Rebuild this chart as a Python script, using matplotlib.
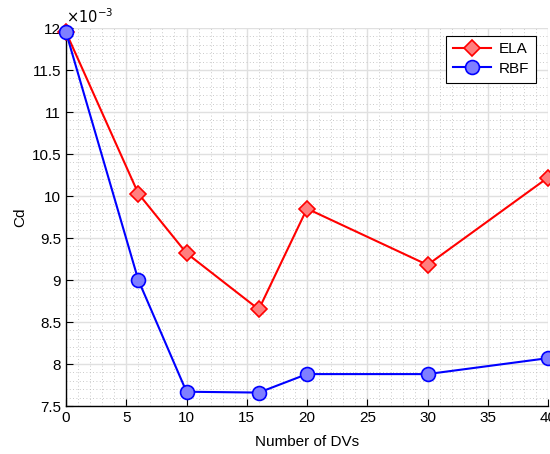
import matplotlib.pyplot as plt
import numpy as np
from matplotlib.ticker import MultipleLocator

plt.rcParams['font.family'] = ['Liberation Sans', 'DejaVu Sans']

# Cd values, stored in units of 1e-3
dvs = [0, 6, 10, 16, 20, 30, 40]
cd_ela = [11.95, 10.03, 9.32, 8.65, 9.85, 9.18, 10.22]
cd_rbf = [11.95, 9.0, 7.67, 7.66, 7.88, 7.88, 8.07]

fig = plt.figure(figsize=(5.5, 4.54), dpi=100)
ax = fig.add_axes([0.12, 0.1057, 0.8764, 0.8325])

ax.plot(dvs, cd_ela, color='#ff0000', lw=1.5, marker='D', ms=8,
        mfc='#ff7f7f', mec='#ff0000', mew=1.2, label='ELA', clip_on=False, zorder=3)
ax.plot(dvs, cd_rbf, color='#0000ff', lw=1.5, marker='o', ms=10,
        mfc='#7f7fff', mec='#0000ff', mew=1.2, label='RBF', clip_on=False, zorder=3)

ax.set_xlim(0, 40)
ax.set_ylim(7.5, 12)
ax.xaxis.set_major_locator(MultipleLocator(5))
ax.xaxis.set_minor_locator(MultipleLocator(1))
ax.yaxis.set_major_locator(MultipleLocator(0.5))
ax.yaxis.set_minor_locator(MultipleLocator(0.1))
ax.set_yticklabels([f'{v:g}' for v in ax.get_yticks()])

ax.grid(True, which='major', color='#e0e0e0', lw=1.0)
ax.grid(True, which='minor', color='#b8b8b8', lw=0.6, ls=(0, (1, 3)))
ax.set_axisbelow(True)

for s in ['top', 'right']:
    ax.spines[s].set_visible(False)
for s in ['left', 'bottom']:
    ax.spines[s].set_linewidth(1.0)
ax.tick_params(which='both', direction='in', labelsize=11, top=False, right=False)
ax.tick_params(which='major', length=5)
ax.tick_params(which='minor', length=0)

ax.set_xlabel('Number of DVs', fontsize=11, labelpad=7)
ax.set_ylabel('Cd', fontsize=11, labelpad=3)
ax.text(0.0, 1.005, r'$\times10^{-3}$', transform=ax.transAxes, fontsize=10.5,
        ha='left', va='bottom')

leg = ax.legend(loc='upper right', bbox_to_anchor=(0.975, 0.98), fontsize=11,
                fancybox=False, edgecolor='black', framealpha=1, handlelength=2.5,
                borderpad=0.45, labelspacing=0.35, handletextpad=0.5, borderaxespad=0)
leg.get_frame().set_linewidth(0.8)

fig.savefig('out.png', dpi=100)
